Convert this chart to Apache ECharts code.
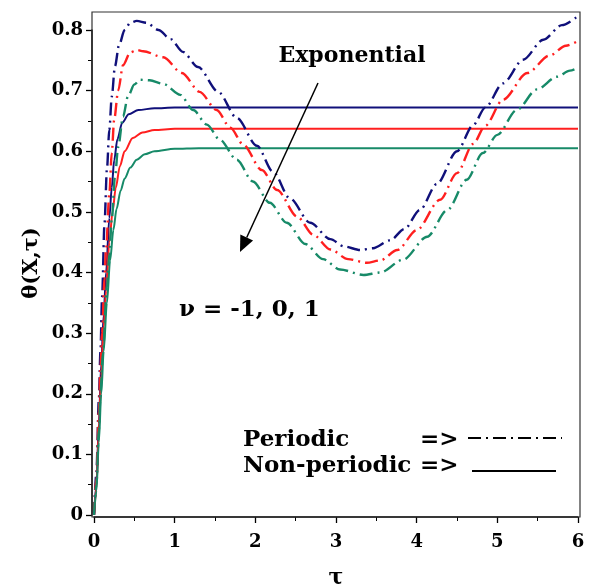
<!DOCTYPE html>
<html>
<head>
<meta charset="utf-8">
<script src="https://cdn.jsdelivr.net/npm/echarts@6/dist/echarts.min.js"></script>
<style>html,body{margin:0;padding:0;background:#fff}#c{width:600px;height:588px}</style>
</head>
<body>
<div id="c"></div>
<script>
// ---- data: [tau, theta] ----
const solidNuMinus1 = [[0,0],[0.03,0.05],[0.06,0.15],[0.09,0.25],[0.12,0.33],[0.15,0.40],[0.19,0.49],[0.22,0.54],[0.25,0.585],[0.29,0.62],[0.35,0.647],[0.43,0.661],[0.55,0.668],[0.75,0.671],[1.0,0.672],[6,0.672]];
const solidNu0 = [[0,0],[0.03,0.045],[0.06,0.14],[0.09,0.23],[0.12,0.31],[0.15,0.37],[0.19,0.45],[0.23,0.5],[0.27,0.54],[0.32,0.575],[0.38,0.6],[0.48,0.622],[0.6,0.631],[0.75,0.635],[1.0,0.637],[6,0.637]];
const solidNu1 = [[0,0],[0.03,0.04],[0.06,0.12],[0.09,0.2],[0.12,0.27],[0.16,0.35],[0.2,0.42],[0.24,0.47],[0.28,0.505],[0.33,0.535],[0.38,0.555],[0.45,0.573],[0.53,0.586],[0.63,0.595],[0.75,0.6],[1.0,0.604],[1.3,0.605],[6,0.605]];
const periodicNuMinus1 = [[0,0],[0.03,0.07],[0.06,0.19],[0.08,0.27],[0.1,0.36],[0.13,0.48],[0.16,0.57],[0.19,0.635],[0.22,0.69],[0.26,0.74],[0.31,0.775],[0.38,0.8],[0.45,0.812],[0.53,0.815],[0.65,0.812],[0.8,0.8],[0.95,0.785],[1.1,0.764],[1.29,0.739],[1.54,0.698],[1.77,0.655],[2.02,0.609],[2.22,0.566],[2.43,0.522],[2.68,0.482],[2.93,0.455],[3.1,0.443],[3.3,0.437],[3.46,0.44],[3.67,0.453],[3.85,0.472],[4.04,0.503],[4.25,0.546],[4.5,0.6],[4.7,0.643],[4.85,0.672],[5.07,0.712],[5.32,0.751],[5.57,0.784],[5.8,0.808],[6,0.823]];
const periodicNu0 = [[0,0],[0.03,0.06],[0.06,0.17],[0.08,0.24],[0.1,0.3],[0.13,0.39],[0.15,0.44],[0.19,0.53],[0.22,0.597],[0.25,0.652],[0.3,0.70],[0.36,0.742],[0.45,0.763],[0.53,0.767],[0.61,0.765],[0.86,0.755],[1.09,0.729],[1.31,0.698],[1.52,0.668],[1.69,0.639],[1.85,0.611],[2.08,0.569],[2.27,0.536],[2.52,0.492],[2.72,0.462],[2.93,0.438],[3.15,0.422],[3.38,0.416],[3.55,0.42],[3.76,0.437],[4.0,0.47],[4.29,0.52],[4.5,0.564],[4.7,0.612],[4.85,0.642],[5.07,0.685],[5.37,0.729],[5.65,0.758],[5.85,0.774],[6,0.782]];
const periodicNu1 = [[0,0],[0.03,0.05],[0.06,0.14],[0.08,0.2],[0.11,0.267],[0.16,0.376],[0.19,0.43],[0.22,0.487],[0.26,0.558],[0.3,0.607],[0.36,0.657],[0.42,0.69],[0.5,0.71],[0.57,0.718],[0.69,0.717],[0.86,0.711],[1.07,0.693],[1.23,0.668],[1.4,0.644],[1.56,0.619],[1.77,0.586],[1.97,0.55],[2.18,0.515],[2.39,0.482],[2.62,0.447],[2.84,0.422],[3.05,0.405],[3.34,0.396],[3.55,0.4],[3.83,0.421],[4.13,0.459],[4.38,0.503],[4.62,0.553],[4.82,0.597],[5.0,0.627],[5.24,0.668],[5.49,0.702],[5.74,0.723],[5.9,0.733],[6,0.738]];

const xRange = [0, 6];
const yRange = [0, 0.8];

// ---- styling ----
const FONT = '"DejaVu Serif", "Liberation Serif", serif';
const C_BLUE = '#10107a', C_RED = '#ff1f1f', C_GREEN = '#178a68';
const DASHDOT = [13, 5, 2, 5];

function mk(name, data, color, dashed) {
  return {
    name, type: 'line', data, showSymbol: false, smooth: 0.3, smoothMonotone: 'x', clip: false,
    lineStyle: { color, width: dashed ? 2.4 : 2, type: dashed ? DASHDOT : 'solid', cap: 'butt' },
    z: dashed ? 3 : 2, silent: true
  };
}

const axisCommon = {
  type: 'value', offset: 2,
  axisLine: { show: true, onZero: false, lineStyle: { color: '#000', width: 1.5 } },
  axisTick: { show: true, length: 6, lineStyle: { color: '#000', width: 1.3 } },
  minorTick: { show: true, splitNumber: 2, length: 4, lineStyle: { color: '#000', width: 1 } },
  splitLine: { show: false },
  minorSplitLine: { show: false }
};

const ux = -0.419, uy = 0.908, px = 0.908, py = 0.419;
const tip = [240, 252];
const base = [tip[0] - 16 * ux, tip[1] - 16 * uy];

const option = {
  animation: false,
  backgroundColor: '#fff',
  grid: { left: 94, right: 22, top: 30, bottom: 73, containLabel: false, outerBoundsMode: 'none' },
  xAxis: Object.assign({}, axisCommon, {
    min: xRange[0], max: xRange[1], interval: 1,
    axisLabel: { fontFamily: FONT, fontWeight: 'bold', fontSize: 18, color: '#000', margin: 16 },
    name: 'τ', nameLocation: 'middle', nameGap: 50, nameMoveOverlap: false,
    nameTextStyle: { fontFamily: FONT, fontWeight: 'bold', fontSize: 22, color: '#000' }
  }),
  yAxis: Object.assign({}, axisCommon, {
    min: yRange[0], max: yRange[1], interval: 0.1,
    axisLabel: { fontFamily: FONT, fontWeight: 'bold', fontSize: 18, color: '#000', margin: 9 }
  }),
  graphic: [
    { type: 'rect', shape: { x: 92, y: 12, width: 488, height: 505 }, style: { fill: null, stroke: '#333', lineWidth: 1.2 }, z: 1, silent: true },
    { type: 'text', x: 32, y: 263, rotation: Math.PI / 2, style: { text: 'θ(X,τ)', fontFamily: FONT, fontWeight: 'bold', fontSize: 21, fill: '#000', align: 'center', verticalAlign: 'middle' } },
    { type: 'text', x: 352, y: 56, style: { text: 'Exponential', fontFamily: FONT, fontWeight: 'bold', fontSize: 22, fill: '#000', align: 'center', verticalAlign: 'middle' } },
    { type: 'line', shape: { x1: 318, y1: 83, x2: base[0], y2: base[1] }, style: { stroke: '#000', lineWidth: 1.5 }, z: 10 },
    { type: 'polygon', shape: { points: [tip, [base[0] + 7 * px, base[1] + 7 * py], [base[0] - 7 * px, base[1] - 7 * py]] }, style: { fill: '#000' }, z: 10 },
    { type: 'text', x: 179, y: 310, style: { text: 'ν = -1, 0, 1', fontFamily: FONT, fontWeight: 'bold', fontSize: 23, fill: '#000', align: 'left', verticalAlign: 'middle' } },
    { type: 'text', x: 243, y: 440, style: { text: 'Periodic', fontFamily: FONT, fontWeight: 'bold', fontSize: 23, fill: '#000', align: 'left', verticalAlign: 'middle' } },
    { type: 'text', x: 420, y: 440, style: { text: '=>', fontFamily: FONT, fontWeight: 'bold', fontSize: 23, fill: '#000', align: 'left', verticalAlign: 'middle' } },
    { type: 'line', shape: { x1: 468, y1: 438, x2: 562, y2: 438 }, style: { stroke: '#000', lineWidth: 2, lineDash: [13, 5, 2, 5] } },
    { type: 'text', x: 243, y: 466, style: { text: 'Non-periodic', fontFamily: FONT, fontWeight: 'bold', fontSize: 23, fill: '#000', align: 'left', verticalAlign: 'middle' } },
    { type: 'text', x: 420, y: 466, style: { text: '=>', fontFamily: FONT, fontWeight: 'bold', fontSize: 23, fill: '#000', align: 'left', verticalAlign: 'middle' } },
    { type: 'line', shape: { x1: 472, y1: 471, x2: 556, y2: 471 }, style: { stroke: '#000', lineWidth: 2 } }
  ],
  series: [
    mk('Non-periodic ν=-1', solidNuMinus1, C_BLUE, false),
    mk('Non-periodic ν=0', solidNu0, C_RED, false),
    mk('Non-periodic ν=1', solidNu1, C_GREEN, false),
    mk('Periodic ν=-1', periodicNuMinus1, C_BLUE, true),
    mk('Periodic ν=0', periodicNu0, C_RED, true),
    mk('Periodic ν=1', periodicNu1, C_GREEN, true)
  ]
};

const chart = echarts.init(document.getElementById('c'));
chart.setOption(option);
</script>
</body>
</html>
